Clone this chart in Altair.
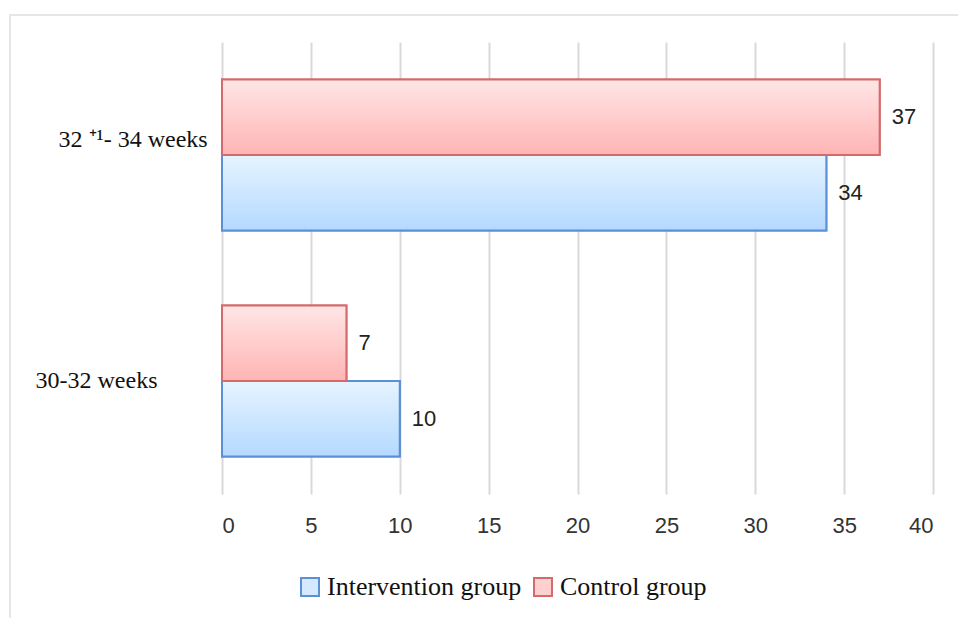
import altair as alt
import pandas as pd

# Gestational age at delivery, counts per group
categories = ["32 \u207a\u00b9- 34 weeks", "30-32 weeks"]
groups = ["Control group", "Intervention group"]
intervention = [34, 10]
control = [37, 7]

rows = []
for cat, iv, cv in zip(categories, intervention, control):
    rows.append({"category": cat, "group": "Intervention group", "value": iv})
    rows.append({"category": cat, "group": "Control group", "value": cv})
df = pd.DataFrame(rows)

serif = "Liberation Serif"
sans = "Liberation Sans"

legend_order = ["Intervention group", "Control group"]
red_grad = {
    "gradient": "linear", "x1": 0, "y1": 0, "x2": 0, "y2": 1,
    "stops": [{"offset": 0, "color": "#ffe6e6"}, {"offset": 1, "color": "#ffb4b4"}],
}
blue_grad = {
    "gradient": "linear", "x1": 0, "y1": 0, "x2": 0, "y2": 1,
    "stops": [{"offset": 0, "color": "#e6f4ff"}, {"offset": 1, "color": "#b4d9ff"}],
}

is_first = f"datum.value == '{categories[0]}'"

y_enc = alt.Y(
    "category:N",
    sort=categories,
    title=None,
    scale=alt.Scale(paddingInner=0.332, paddingOuter=0.166),
    axis=alt.Axis(
        domain=False, ticks=False, tickSize=0, labelAlign="left",
        labelPadding={"condition": {"test": is_first, "value": 164}, "value": 187},
        labelOffset={"condition": {"test": is_first, "value": -15}, "value": 0},
        labelFont=serif, labelFontSize=24, labelColor="#111111", labelLimit=300,
    ),
)
yoff = alt.YOffset("group:N", sort=groups)
x_enc = alt.X(
    "value:Q",
    title=None,
    scale=alt.Scale(domain=[0, 40], nice=False),
    axis=alt.Axis(
        values=list(range(0, 41, 5)), domain=False, ticks=False,
        grid=True, gridColor="#d9d9d9", gridWidth=2,
        labelFont=sans, labelFontSize=22, labelColor="#333333", labelPadding=21,
    ),
)

legend = alt.Legend(
    title=None, orient="none", legendX=75, legendY=532, direction="horizontal",
    symbolType="square", symbolSize=324, symbolStrokeWidth=2, symbolOpacity=1,
    labelFont=serif, labelFontSize=26, labelColor="#111111", labelLimit=400,
    columnPadding=8, labelOffset=4,
)

# Solid bars carry the legend; gradient bars are drawn on top of them
base_bars = alt.Chart(df).mark_bar(strokeWidth=2, opacity=1).encode(
    x=x_enc,
    y=y_enc,
    yOffset=yoff,
    fill=alt.Fill("group:N", scale=alt.Scale(domain=legend_order, range=["#d6eaff", "#ffd0d0"]), legend=legend),
    stroke=alt.Stroke("group:N", scale=alt.Scale(domain=legend_order, range=["#5b8fd6", "#d46a6a"]), legend=legend),
)

grad_bars = alt.Chart(df).mark_bar(strokeWidth=2).encode(
    x="value:Q",
    y=alt.Y("category:N", sort=categories),
    yOffset=yoff,
    fill=alt.condition(alt.datum.group == "Control group", alt.value(red_grad), alt.value(blue_grad)),
    stroke=alt.condition(alt.datum.group == "Control group", alt.value("#d46a6a"), alt.value("#5b8fd6")),
)

labels = alt.Chart(df).mark_text(
    align="left", baseline="middle", dx=12, font=sans, fontSize=22, color="#222222"
).encode(
    x="value:Q",
    y=alt.Y("category:N", sort=categories),
    yOffset=yoff,
    text="value:Q",
)

frame = alt.Chart(pd.DataFrame({"a": [0]})).mark_rect(
    fill=None, stroke="#e6e6e6", strokeWidth=2
).encode(
    x=alt.value(-212), x2=alt.value(760), y=alt.value(-27), y2=alt.value(640)
)

chart = alt.layer(frame, base_bars, grad_bars, labels).properties(
    width=711,
    height=452,
    background="white",
    autosize=alt.AutoSizeParams(type="none"),
    padding={"left": 222, "top": 42, "right": 25, "bottom": 124},
).configure_view(stroke=None)

chart.save("out.html", embed_options={"renderer": "svg", "actions": False})
